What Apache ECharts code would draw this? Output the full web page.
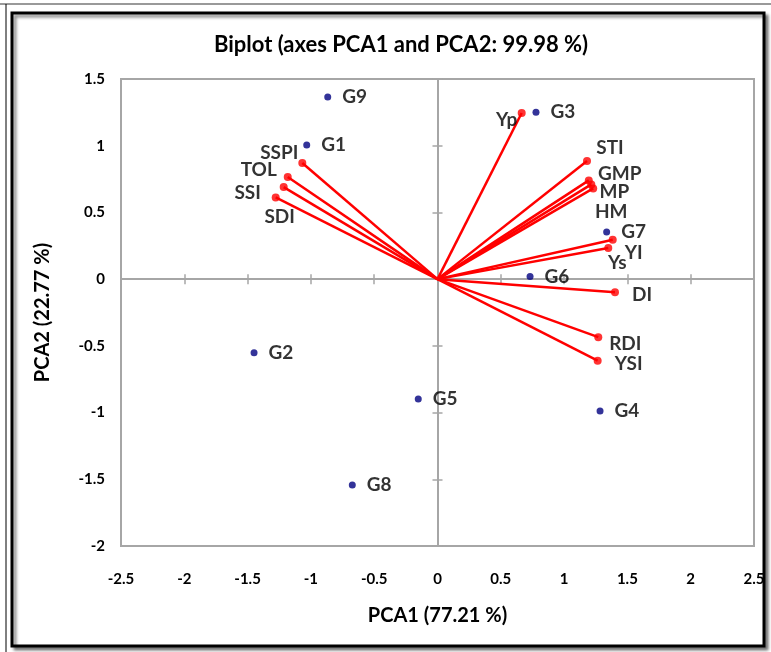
<!DOCTYPE html>
<html>
<head>
<meta charset="utf-8">
<script src="https://cdn.jsdelivr.net/npm/echarts@6/dist/echarts.min.js"></script>
<style>
  html, body { margin: 0; padding: 0; background: #fff; }
  #chart { width: 771px; height: 652px; }
</style>
</head>
<body>
<div id="chart"></div>
<script>
// genotypes (observations)
const genoNames = ['G1', 'G2', 'G3', 'G4', 'G5', 'G6', 'G7', 'G8', 'G9'];
const genoX = [-1.033, -1.449, 0.778, 1.284, -0.152, 0.731, 1.336, -0.673, -0.867];
const genoY = [1.005, -0.551, 1.25, -0.988, -0.898, 0.02, 0.353, -1.543, 1.365];

// indices (variables)
const varNames = ['Yp', 'Ys', 'MP', 'GMP', 'HM', 'STI', 'YI', 'YSI', 'TOL', 'SSI', 'SSPI', 'RDI', 'DI', 'SDI'];
const varX = [0.665, 1.349, 1.215, 1.195, 1.23, 1.181, 1.384, 1.265, -1.183, -1.215, -1.068, 1.27, 1.402, -1.278];
const varY = [1.245, 0.233, 0.71, 0.74, 0.68, 0.885, 0.295, -0.611, 0.765, 0.69, 0.87, -0.435, -0.098, 0.612];

// where each variable label sits relative to its point (px)
const varLabelOffset = {
  Yp: [-15, 7], Ys: [9, 15], MP: [23, 7], GMP: [31, -7], HM: [18, 23], STI: [23, -13],
  YI: [21, 13], YSI: [31, 3], TOL: [-29, -7], SSI: [-36, 6], SSPI: [-23, -10],
  RDI: [27, 7], DI: [27, 3], SDI: [4, 19]
};

const font = 'Lato, "Open Sans", sans-serif';
const labelText = { color: '#000', fontWeight: 'bold', fontFamily: font, fontSize: 19 };

const chart = echarts.init(document.getElementById('chart'));

const genoData = genoNames.map((n, i) => ({ name: n, value: [genoX[i], genoY[i]] }));
const varData = varNames.map((n, i) => ({
  name: n,
  value: [varX[i], varY[i]],
  label: { offset: varLabelOffset[n] }
}));
const vectors = varNames.map((n, i) => ({ coords: [[0, 0], [varX[i], varY[i]]] }));

const gridLine = '#a6a6a6';
const baseX = { type: 'value', min: -2.5, max: 2.5, interval: 0.5, splitLine: { show: false } };
const baseY = { type: 'value', min: -2, max: 1.5, interval: 0.5, splitLine: { show: false } };

const option = {
  backgroundColor: '#fff',
  animation: false,
  title: {
    text: 'Biplot (axes PCA1 and PCA2: 99.98 %)',
    left: 396,
    top: 29,
    textAlign: 'center',
    textStyle: { color: '#000', fontWeight: 'bold', fontFamily: font, fontSize: 22 }
  },
  graphic: [
    { type: 'rect', shape: { x: 12, y: 13, width: 752, height: 633 }, z: -10,
      style: { fill: '#fff', stroke: '#000', lineWidth: 3, shadowColor: 'rgba(0,0,0,0.45)', shadowBlur: 3, shadowOffsetX: 3, shadowOffsetY: 3 } },
    { type: 'line', shape: { x1: 0, y1: 4, x2: 771, y2: 4 }, z: -11, style: { stroke: '#999', lineWidth: 2 } },
    { type: 'line', shape: { x1: 6, y1: 4, x2: 6, y2: 652 }, z: -11, style: { stroke: '#000', lineWidth: 1 } }
  ],
  grid: {
    left: 121, right: 17, top: 79, bottom: 106,
    show: true, borderColor: gridLine, borderWidth: 2, backgroundColor: 'transparent'
  },
  xAxis: [
    Object.assign({}, baseX, {
      position: 'bottom',
      axisLine: { show: false, onZero: false },
      axisTick: { show: false },
      axisLabel: { margin: 26, color: '#000', fontWeight: 'bold', fontFamily: font, fontSize: 15 },
      name: 'PCA1 (77.21 %)',
      nameLocation: 'middle',
      nameGap: 60,
      nameTextStyle: { color: '#000', fontWeight: 'bold', fontFamily: font, fontSize: 20 }
    }),
    Object.assign({}, baseX, {
      position: 'bottom',
      axisLine: { show: true, onZero: true, onZeroAxisIndex: 0, lineStyle: { color: gridLine, width: 2 } },
      axisTick: { show: true, inside: false, length: 5, lineStyle: { color: gridLine, width: 1.5 } },
      axisLabel: { show: false }
    }),
    Object.assign({}, baseX, {
      position: 'bottom',
      axisLine: { show: false, onZero: true, onZeroAxisIndex: 0 },
      axisTick: { show: true, inside: true, length: 5, lineStyle: { color: gridLine, width: 1.5 } },
      axisLabel: { show: false }
    })
  ],
  yAxis: [
    Object.assign({}, baseY, {
      position: 'left',
      axisLine: { show: false, onZero: false },
      axisTick: { show: false },
      axisLabel: { margin: 16, color: '#000', fontWeight: 'bold', fontFamily: font, fontSize: 15 },
      name: 'PCA2 (22.77 %)',
      nameLocation: 'middle',
      nameGap: 68,
      nameTextStyle: { color: '#000', fontWeight: 'bold', fontFamily: font, fontSize: 20 }
    }),
    Object.assign({}, baseY, {
      position: 'left',
      axisLine: { show: true, onZero: true, onZeroAxisIndex: 0, lineStyle: { color: gridLine, width: 2 } },
      axisTick: { show: true, inside: false, length: 5, lineStyle: { color: gridLine, width: 1.5 } },
      axisLabel: { show: false }
    }),
    Object.assign({}, baseY, {
      position: 'left',
      axisLine: { show: false, onZero: true, onZeroAxisIndex: 0 },
      axisTick: { show: true, inside: true, length: 5, lineStyle: { color: gridLine, width: 1.5 } },
      axisLabel: { show: false }
    })
  ],
  series: [
    {
      name: 'vectors',
      type: 'lines',
      coordinateSystem: 'cartesian2d',
      data: vectors,
      lineStyle: { color: '#ff0000', width: 2.5, opacity: 1 },
      z: 3
    },
    {
      name: 'variables',
      type: 'scatter',
      data: varData,
      symbolSize: 8,
      itemStyle: { color: '#ff0000' },
      label: Object.assign({ show: true, position: 'inside', formatter: '{b}' }, labelText),
      z: 4
    },
    {
      name: 'genotypes',
      type: 'scatter',
      data: genoData,
      symbolSize: 7,
      itemStyle: { color: '#000080' },
      label: Object.assign({ show: true, position: 'right', distance: 11, formatter: '{b}' }, labelText),
      z: 4
    }
  ]
};

chart.setOption(option);
window.addEventListener('resize', () => chart.resize());
</script>
</body>
</html>
